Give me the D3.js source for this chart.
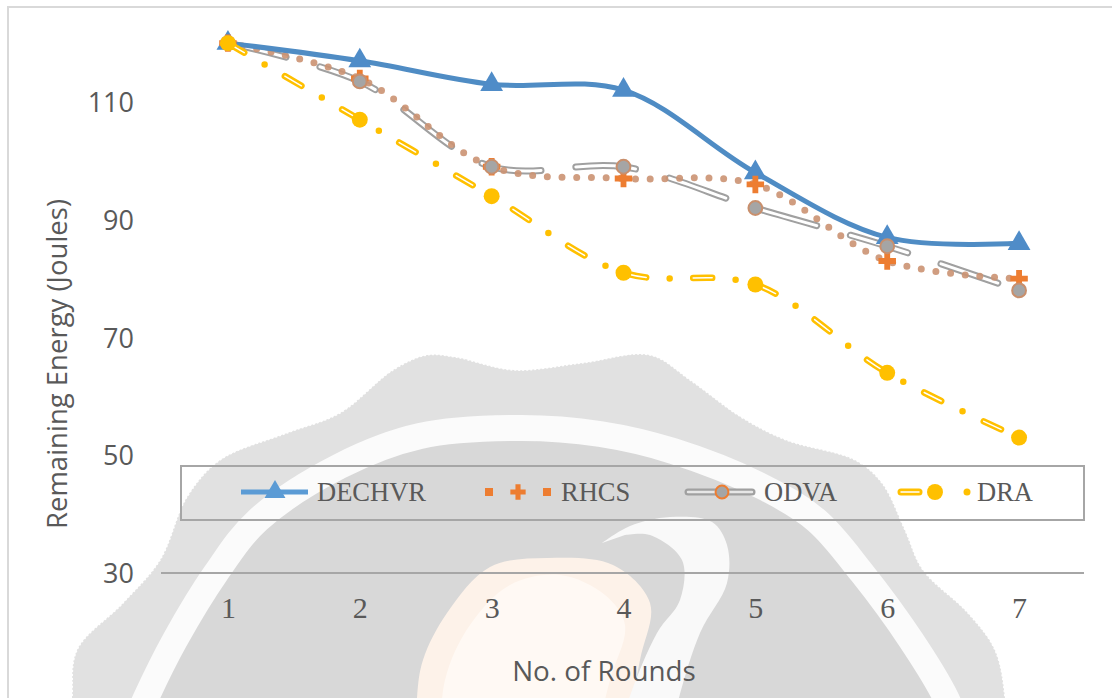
<!DOCTYPE html>
<html>
<head>
<meta charset="utf-8">
<script src="https://cdn.jsdelivr.net/npm/d3@7"></script>
<style>
    html, body { margin: 0; padding: 0; background: #fff; overflow: hidden; }
    svg { display: block; }
    .yAxisText text { font-family: "Open Sans", sans-serif; font-size: 27px; fill: #595959; }
    .xAxisText text { font-family: "Liberation Serif", serif; font-size: 30px; fill: #595959; }
    .title { font-family: "Open Sans", sans-serif; fill: #595959; }
    .legendText { font-family: "Liberation Serif", serif; font-size: 26.5px; fill: #595959; }
</style>
</head>
<body>
<div id="chart"></div>
<script>
// chart values
let rounds = [1, 2, 3, 4, 5, 6, 7];
let dechvr = [120, 117, 113, 112, 98, 87, 86];
let rhcs = [120, 114, 99, 97, 96, 83, 80];
let odva = [120, 113.5, 99, 99, 92, 85.5, 78];
let dra = [120, 107, 94, 81, 79, 64, 53];
let yTicks = [30, 50, 70, 90, 110];
let legendNames = ["DECHVR", "RHCS", "ODVA", "DRA"];

let xTitle = "No. of Rounds";
let yTitle = "Remaining Energy (Joules)";

// size of the plot
let width = 1112, height = 698;
let margin = {top: 7, right: 28, bottom: 125, left: 161};
let axisColor = "#a6a6a6";

let svg = d3.select("#chart").append("svg")
    .attr("width", width)
    .attr("height", height);

// watermark outlines behind the chart
let smooth = d3.line().curve(d3.curveCatmullRom.alpha(0.5));
let outerSeal = [[70, 760], [72, 698], [77, 650], [123, 603], [160, 560], [187, 497], [220, 460], [287, 433],
    [340, 413], [393, 370], [427, 355], [455, 357], [514, 370], [582, 363], [650, 355], [690, 380],
    [741, 417], [786, 440], [855, 460], [882, 483], [905, 530], [923, 570], [968, 613], [995, 650],
    [1005, 698], [1005, 760]];
let innerRing = [[120, 760], [146, 698], [175, 640], [216, 573], [258, 520], [340, 466], [420, 436], [520, 428],
    [600, 434], [673, 451], [763, 487], [816, 520], [862, 573], [911, 640], [946, 698], [970, 760]];
let globe = [[417, 760], [417, 698], [423, 660], [447, 613], [490, 567], [547, 558], [613, 565], [650, 603],
    [640, 660], [620, 760]];
let globeLight = [[440, 760], [445, 680], [470, 625], [510, 585], [560, 575], [605, 595], [625, 625], [610, 680], [590, 760]];
let crescent = [[602, 543], [630, 526], [670, 517], [712, 522], [727, 545], [727, 583], [700, 633], [677, 705],
    [665, 760], [615, 760], [627, 705], [657, 633], [680, 600], [682, 560], [650, 535], [625, 535]];

let mark = svg.append("g");
mark.append("path").attr("d", smooth(outerSeal) + "Z").attr("fill", "#e1e1e1")
    .attr("stroke", "#ffffff").attr("stroke-width", 1.5).attr("stroke-dasharray", "2 2");
mark.append("path").attr("d", smooth(innerRing) + "Z")
    .attr("fill", "#d8d8d8").attr("stroke", "#fbfbfb").attr("stroke-width", 26);
mark.append("path").attr("d", smooth(globe) + "Z").attr("fill", "#fdf2e9");
mark.append("path").attr("d", smooth(globeLight) + "Z").attr("fill", "#fff9f4");
mark.append("path").attr("d", smooth(crescent) + "Z").attr("fill", "#f9f9f9");

// outer frame of the figure, only left and top edges are inside the picture
svg.append("rect")
    .attr("x", 8).attr("y", 7)
    .attr("width", width + 20).attr("height", height + 20)
    .attr("fill", "none")
    .attr("stroke", "#d9d9d9")
    .attr("stroke-width", 2);

// scales
let x = d3.scalePoint()
    .domain(rounds)
    .range([margin.left + 1, width - margin.right + 1])
    .padding(0.5);

let y = d3.scaleLinear()
    .domain([30, 110])
    .range([573, 102]);

// axes
let yAxis = svg.append("g")
    .attr("class", "yAxisText")
    .attr("transform", "translate(" + margin.left + ",1)")
    .call(d3.axisLeft(y).tickValues(yTicks).tickSize(0).tickPadding(27));
yAxis.select(".domain").remove();

let xAxis = svg.append("g")
    .attr("class", "xAxisText")
    .attr("transform", "translate(0,573)")
    .call(d3.axisBottom(x).tickSize(0).tickPadding(24));
xAxis.select(".domain").remove();
// the point scale only spans the ticks, so draw the baseline over the full width
xAxis.append("line")
    .attr("x1", margin.left).attr("x2", width - margin.right)
    .attr("stroke", axisColor).attr("stroke-width", 2);

svg.append("text")
    .attr("class", "title")
    .attr("x", 604).attr("y", 681)
    .attr("text-anchor", "middle")
    .style("font-size", "27.8px")
    .text(xTitle);

svg.append("text")
    .attr("class", "title")
    .attr("transform", "translate(67,364) rotate(-90)")
    .attr("text-anchor", "middle")
    .style("font-size", "27.5px")
    .text(yTitle);

// series
let line = d3.line()
    .x(function (d, i) { return x(rounds[i]); })
    .y(function (d) { return y(d); })
    .curve(d3.curveCatmullRom.alpha(0.5));

let plot = svg.append("g");

function drawSeries(values, color, strokeWidth, dash, cap, opacity) {
    return plot.append("path")
        .attr("d", line(values))
        .attr("fill", "none")
        .attr("stroke", color)
        .attr("stroke-width", strokeWidth)
        .attr("stroke-dasharray", dash)
        .attr("stroke-linecap", cap)
        .attr("opacity", opacity);
}

function drawMarkers(values, symbol, size, fill, stroke, strokeWidth) {
    plot.selectAll(null)
        .data(values)
        .enter()
        .append("path")
        .attr("d", d3.symbol().type(symbol).size(size))
        .attr("transform", function (d, i) { return "translate(" + x(rounds[i]) + "," + y(d) + ")"; })
        .attr("fill", fill)
        .attr("stroke", stroke)
        .attr("stroke-width", strokeWidth);
}

// ODVA is a hollow long dash, the dotted RHCS line runs over it
drawSeries(odva, "#a0a0a0", 7, "60 35", "round", 1);
drawSeries(odva, "#ffffff", 3, "60 35", "round", 1);
drawSeries(rhcs, "#cb9272", 7, "0 14.7", "round", 0.9);
drawSeries(dechvr, "#4f8cc4", 5, null, "round", 1);
drawMarkers(dechvr, d3.symbolTriangle, 225, "#4f8cc8", "none", 0);
drawMarkers(rhcs, d3.symbolCross, 170, "#ed7d31", "none", 0);
drawMarkers(odva, d3.symbolCircle, 150, "#a5a5a5", "#c98f6c", 2);
drawSeries(dra, "#ffc000", 6.5, "19 23.5 0 23.5", "round", 1);
drawSeries(dra, "#ffffff", 1.5, "19 47", "round", 1);
drawMarkers(dra, d3.symbolCircle, 200, "#ffc000", "none", 0);

// legend
let legend = svg.append("g").attr("transform", "translate(0,492)");
legend.append("rect")
    .attr("x", 181).attr("y", -26)
    .attr("width", 903).attr("height", 54)
    .attr("fill", "none")
    .attr("stroke", axisColor)
    .attr("stroke-width", 2);

let legendTextX = [317, 561, 764, 977];
legend.selectAll(".legendText")
    .data(legendNames)
    .enter()
    .append("text")
    .attr("class", "legendText")
    .attr("x", function (d, i) { return legendTextX[i]; })
    .attr("y", 9)
    .text(function (d) { return d; });

function legendLine(x1, x2, color, strokeWidth, dash, cap) {
    legend.append("line")
        .attr("x1", x1).attr("x2", x2)
        .attr("stroke", color)
        .attr("stroke-width", strokeWidth)
        .attr("stroke-dasharray", dash)
        .attr("stroke-linecap", cap);
}

function legendMark(cx, symbol, size, fill, stroke) {
    legend.append("path")
        .attr("d", d3.symbol().type(symbol).size(size))
        .attr("transform", "translate(" + cx + ",0)")
        .attr("fill", fill)
        .attr("stroke", stroke)
        .attr("stroke-width", stroke ? 2 : 0);
}

legendLine(241, 308, "#5b9bd5", 5, null, "butt");
legendMark(275, d3.symbolTriangle, 190, "#5b9bd5", null);

legendLine(485, 493, "#ed7d31", 8, null, "butt");
legendLine(543, 551, "#ed7d31", 8, null, "butt");
legendMark(518, d3.symbolCross, 130, "#ed7d31", null);

legendLine(688, 752, "#a0a0a0", 7, null, "round");
legendLine(688, 752, "#e6e6e6", 2.5, null, "round");
legendMark(722, d3.symbolCircle, 130, "#a5a5a5", "#ed7d31");

legendLine(901, 919, "#ffc000", 7, null, "round");
legendLine(901, 919, "#ffffff", 1.5, null, "round");
legendMark(935, d3.symbolCircle, 200, "#ffc000", null);
legendLine(967, 967, "#ffc000", 7, null, "round");
</script>
</body>
</html>
